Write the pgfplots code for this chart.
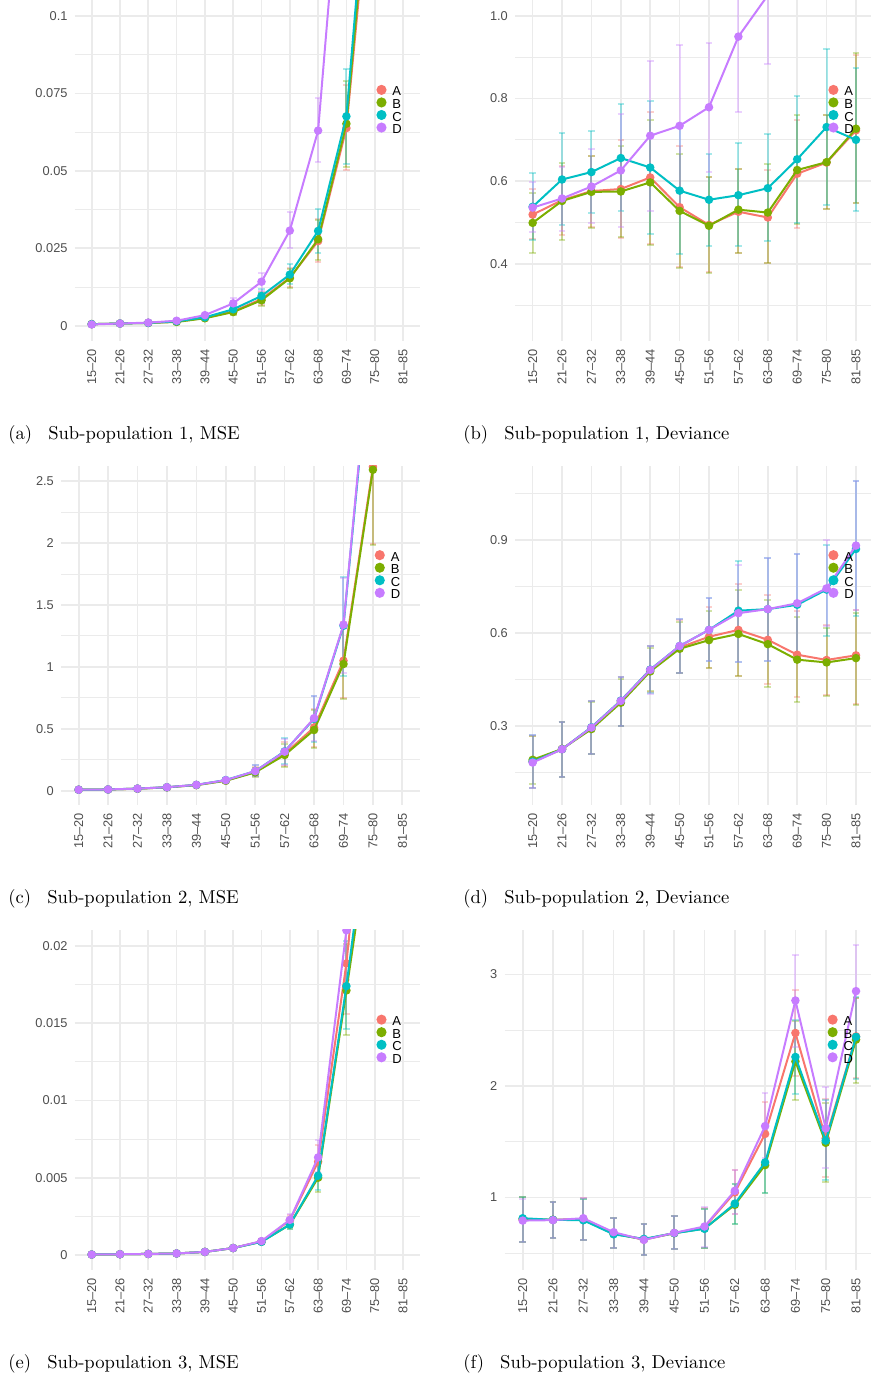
\documentclass[border=0pt]{standalone}
\usepackage{fontspec}
\usepackage{pgfplots}
\usepackage{pgfplotstable}
\pgfplotsset{compat=1.18}
\newfontfamily\ggf{Liberation Sans}
\definecolor{cA}{HTML}{F8766D}
\definecolor{cB}{HTML}{7CAE00}
\definecolor{cC}{HTML}{00BFC4}
\definecolor{cD}{HTML}{C77CFF}
\definecolor{gridc}{HTML}{EBEBEB}
\definecolor{tickc}{HTML}{4D4D4D}

\pgfplotstableread{
x yA lA hA yB lB hB yC lC hC yD lD hD
0 0.0005 0.0004 0.0006 0.0005 0.0004 0.0006 0.0005 0.0004 0.0006 0.0004 0.0003 0.0005
1 0.0007 0.0006 0.0008 0.0007 0.0006 0.0008 0.0007 0.0006 0.0008 0.0007 0.0006 0.0008
2 0.0009 0.0008 0.0011 0.0009 0.0008 0.0011 0.0009 0.0008 0.0011 0.0010 0.0008 0.0012
3 0.0013 0.0011 0.0016 0.0012 0.0010 0.0015 0.0014 0.0011 0.0017 0.0016 0.0013 0.0020
4 0.0025 0.0020 0.0030 0.0024 0.0019 0.0029 0.0027 0.0021 0.0033 0.0034 0.0027 0.0042
5 0.0046 0.0038 0.0055 0.0044 0.0036 0.0053 0.0053 0.0043 0.0064 0.0072 0.0056 0.0090
6 0.0086 0.0066 0.0108 0.0082 0.0062 0.0104 0.0096 0.0074 0.0118 0.0142 0.0113 0.0170
7 0.0155 0.0125 0.0187 0.0153 0.0123 0.0184 0.0165 0.0133 0.0200 0.0307 0.0250 0.0366
8 0.0273 0.0207 0.0345 0.0279 0.0212 0.0340 0.0306 0.0234 0.0378 0.0630 0.0528 0.0734
9 0.0638 0.0503 0.0778 0.0652 0.0513 0.0790 0.0676 0.0523 0.0830 0.1730 0.1400 0.2100
10 0.1600 0.1300 0.1900 0.1660 0.1350 0.2000 0.1760 0.1400 0.2100 0.4000 0.3300 0.4700
}\tabA

\pgfplotstableread{
x yA lA hA yB lB hB yC lC hC yD lD hD
0 .519 .459 .582 .499 .427 .572 .538 .457 .619 .536 .476 .598
1 .554 .469 .637 .552 .457 .645 .604 .494 .717 .558 .480 .635
2 .576 .490 .660 .574 .487 .661 .622 .524 .721 .587 .498 .677
3 .581 .462 .700 .575 .464 .685 .656 .527 .786 .626 .488 .763
4 .609 .448 .767 .597 .446 .747 .633 .472 .795 .710 .528 .891
5 .537 .391 .686 .528 .389 .666 .577 .424 .732 .734 .535 .930
6 .494 .379 .609 .492 .378 .609 .555 .444 .665 .779 .623 .935
7 .526 .426 .630 .531 .426 .630 .566 .442 .692 .950 .767 1.14
8 .512 .403 .626 .524 .403 .641 .583 .454 .714 1.05 .884 1.22
9 .618 .486 .747 .627 .497 .760 .653 .498 .807 1.35 1.10 1.60
10 .645 .533 .760 .646 .533 .760 .731 .543 .919 1.50 1.20 1.80
11 .723 .547 .905 .727 .547 .910 .700 .528 .875 1.60 1.30 1.90
}\tabB

\pgfplotstableread{
x yA lA hA yB lB hB yC lC hC yD lD hD
0 .008 .006 .010 .008 .006 .010 .008 .006 .010 .008 .006 .010
1 .010 .008 .013 .010 .008 .013 .010 .008 .013 .010 .008 .013
2 .016 .013 .020 .016 .013 .020 .017 .013 .021 .017 .013 .021
3 .027 .022 .033 .027 .022 .033 .028 .022 .034 .028 .022 .034
4 .046 .038 .054 .045 .037 .053 .047 .039 .056 .047 .039 .056
5 .082 .066 .098 .080 .064 .096 .086 .069 .103 .085 .068 .102
6 .152 .115 .190 .148 .112 .186 .158 .120 .207 .158 .120 .205
7 .298 .200 .390 .288 .194 .380 .318 .212 .425 .315 .210 .420
8 .511 .350 .660 .490 .345 .650 .580 .396 .767 .586 .400 .767
9 1.050 .745 1.360 1.023 .740 1.340 1.332 .930 1.723 1.340 .950 1.720
10 2.616 1.990 3.300 2.592 1.984 3.250 3.800 3.000 4.600 3.850 3.000 4.700
}\tabC

\pgfplotstableread{
x yA lA hA yB lB hB yC lC hC yD lD hD
0 .184 .100 .268 .190 .113 .268 .184 .100 .270 .181 .098 .270
1 .224 .135 .312 .225 .135 .312 .224 .135 .312 .224 .135 .312
2 .294 .208 .381 .289 .208 .378 .295 .208 .381 .294 .208 .381
3 .380 .300 .458 .374 .300 .452 .381 .300 .458 .380 .300 .458
4 .480 .410 .557 .475 .413 .550 .481 .405 .557 .480 .401 .557
5 .552 .469 .640 .548 .469 .636 .557 .469 .644 .557 .469 .644
6 .587 .487 .684 .576 .485 .671 .609 .509 .711 .609 .509 .711
7 .609 .459 .757 .596 .459 .739 .671 .507 .830 .663 .507 .819
8 .577 .435 .722 .563 .424 .705 .676 .510 .841 .676 .510 .841
9 .529 .392 .669 .513 .378 .652 .690 .530 .855 .695 .530 .855
10 .512 .400 .625 .504 .395 .615 .739 .588 .882 .743 .620 .900
11 .527 .370 .674 .518 .368 .664 .870 .655 1.088 .881 .674 1.088
}\tabD

\pgfplotstableread{
x yA lA hA yB lB hB yC lC hC yD lD hD
0 .00003 .00002 .00004 .00003 .00002 .00004 .00003 .00002 .00004 .00003 .00002 .00004
1 .00005 .00004 .00006 .00005 .00004 .00006 .00005 .00004 .00006 .00005 .00004 .00006
2 .00007 .00006 .00008 .00007 .00006 .00008 .00007 .00006 .00008 .00007 .00006 .00008
3 .00010 .00008 .00012 .00010 .00008 .00012 .00010 .00008 .00012 .00010 .00008 .00012
4 .00020 .00016 .00024 .00020 .00016 .00024 .00020 .00016 .00024 .00020 .00016 .00024
5 .00045 .00039 .00051 .00045 .00039 .00051 .00045 .00039 .00051 .00045 .00039 .00051
6 .00088 .00075 .00101 .00086 .00073 .00099 .00085 .00072 .00098 .00090 .00077 .00103
7 .00224 .00190 .00260 .00196 .00165 .00228 .00197 .00166 .00230 .00227 .00192 .00263
8 .00603 .00520 .00710 .00500 .00410 .00590 .00513 .00420 .00605 .00631 .00540 .00744
9 .01886 .01560 .02220 .01711 .01420 .02010 .01739 .01460 .02030 .02100 .01780 .02500
10 .03700 .03100 .04300 .02950 .02450 .03450 .03150 .02600 .03700 .04500 .03800 .05200
}\tabE

\pgfplotstableread{
x yA lA hA yB lB hB yC lC hC yD lD hD
0 .800 .605 1.000 .808 .605 1.000 .814 .605 1.000 .793 .600 .990
1 .800 .635 .964 .800 .635 .964 .800 .635 .964 .797 .635 .964
2 .808 .620 .994 .800 .620 .990 .796 .620 .990 .814 .620 .994
3 .680 .551 .820 .675 .551 .815 .670 .551 .815 .689 .551 .820
4 .622 .485 .763 .625 .485 .763 .629 .485 .763 .620 .485 .763
5 .680 .540 .835 .680 .540 .835 .680 .540 .835 .683 .540 .835
6 .734 .551 .910 .722 .551 .900 .719 .551 .900 .740 .560 .915
7 1.045 .856 1.250 .934 .766 1.120 .945 .766 1.120 1.060 .856 1.250
8 1.570 1.300 1.855 1.290 1.040 1.560 1.315 1.040 1.600 1.640 1.350 1.940
9 2.475 2.085 2.856 2.220 1.870 2.580 2.260 1.930 2.590 2.766 2.350 3.170
10 1.530 1.180 1.880 1.490 1.135 1.850 1.510 1.156 1.876 1.620 1.260 1.995
11 2.445 2.070 2.790 2.415 2.030 2.790 2.440 2.060 2.800 2.850 2.450 3.260
}\tabF

\pgfplotsset{
  gg/.style={
    scale only axis, anchor=south west,
    xmin=-0.6, xmax=11.6,
    xtick={0,...,11},
    xticklabels={15–20,21–26,27–32,33–38,39–44,45–50,51–56,57–62,63–68,69–74,75–80,81–85},
    scaled y ticks=false,
    axis line style={draw=none},
    major tick length=0pt, minor tick length=0pt,
    xmajorgrids=true, ymajorgrids=true, yminorgrids=true,
    major grid style={draw=gridc, line width=1.7pt},
    minor grid style={draw=gridc, line width=0.9pt},
    tick label style={font=\ggf\fontsize{12.8}{14}\selectfont, text=tickc, inner sep=0pt},
    xticklabel style={rotate=90, anchor=east},
    yticklabel style={anchor=east},
    xticklabel shift=8pt, yticklabel shift=7pt,
    clip marker paths=true,
    legend style={draw=none, fill=none, at={(axis description cs:0.874,0.751)},
      anchor=north west, inner sep=0pt, outer sep=0pt,
      font=\ggf\fontsize{13}{13}\selectfont, row sep=-2.3pt, column sep=0pt,
      nodes={inner sep=0pt, text height=8.9pt, text depth=3.8pt}},
    legend cell align=left,
    legend image code/.code={\fill[##1] (4pt,3.5pt) circle (4pt); \path (0pt,0pt) (14pt,0pt);},
  },
  eb/.style={forget plot, only marks, mark=none, color=#1,
    error bars/.cd, y dir=both, y explicit,
    error bar style={line width=2pt, draw opacity=0.35},
    error mark options={line width=2pt, draw opacity=0.35, mark size=3.3pt, rotate=90, color=#1}},
  ln/.style={color=#1, line width=2pt, mark=*, mark size=3.2pt, mark options={draw=none}},
}
\newcommand\ebplot[2]{\addplot[eb=c#1] table[x=x, y=y#1, y error plus expr=\thisrow{h#1}-\thisrow{y#1}, y error minus expr=\thisrow{y#1}-\thisrow{l#1}] {#2};}
\newcommand\lnplot[2]{\addplot[ln=c#1] table[x=x, y=y#1] {#2};}
\newcommand\allplots[1]{%
  \ebplot{A}{#1}\ebplot{B}{#1}\ebplot{C}{#1}\ebplot{D}{#1}%
  \lnplot{A}{#1}\lnplot{B}{#1}\lnplot{C}{#1}\lnplot{D}{#1}%
  \legend{A,B,C,D}}
\newcommand\subcap[3]{\node[anchor=west, inner sep=0pt, scale=1.86] at (#1pt,#2pt) {\fontsize{10}{12}\selectfont #3};}

\begin{document}
\begin{tikzpicture}[x=1pt,y=1pt]
\useasboundingbox (0pt,0pt) rectangle (870pt,1378pt);

% (a)
\begin{axis}[gg, at={(74.7pt,1037pt)}, width=345.3pt, height=341pt,
  ymin=-0.00494, ymax=0.10517,
  ytick={0,0.025,0.05,0.075,0.1}, yticklabels={0,0.025,0.05,0.075,0.1},
  minor ytick={0.0125,0.0375,0.0625,0.0875}]
\allplots{\tabA}
\end{axis}

% (b)
\begin{axis}[gg, at={(515pt,1037pt)}, width=358.6pt, height=341pt,
  ymin=0.213, ymax=1.0387,
  ytick={0.4,0.6,0.8,1.0}, yticklabels={0.4,0.6,0.8,1.0},
  minor ytick={0.3,0.5,0.7,0.9}]
\allplots{\tabB}
\end{axis}

% (c)
\begin{axis}[gg, at={(61pt,573pt)}, width=359pt, height=339.3pt,
  ymin=-0.1155, ymax=2.625,
  ytick={0,0.5,1,1.5,2,2.5}, yticklabels={0,0.5,1,1.5,2,2.5},
  minor ytick={0.25,0.75,1.25,1.75,2.25}]
\allplots{\tabC}
\end{axis}

% (d)
\begin{axis}[gg, at={(515pt,573pt)}, width=358.6pt, height=339.3pt,
  ymin=0.0442, ymax=1.1387,
  ytick={0.3,0.6,0.9}, yticklabels={0.3,0.6,0.9},
  minor ytick={0.15,0.45,0.75,1.05}]
\allplots{\tabD}
\end{axis}

% (e)
\begin{axis}[gg, at={(74.7pt,108pt)}, width=345.3pt, height=340pt,
  ymin=-0.00097, ymax=0.02102,
  ytick={0,0.005,0.01,0.015,0.02}, yticklabels={0,0.005,0.01,0.015,0.02},
  minor ytick={0.0025,0.0075,0.0125,0.0175}]
\allplots{\tabE}
\end{axis}

% (f)
\begin{axis}[gg, at={(504.5pt,108pt)}, width=369.7pt, height=340pt,
  ymin=0.35, ymax=3.398,
  ytick={1,2,3}, yticklabels={1,2,3},
  minor ytick={0.5,1.5,2.5}]
\allplots{\tabF}
\end{axis}

\subcap{8}{943}{(a)\hspace{0.87em}Sub-population 1, MSE}
\subcap{463}{943}{(b)\hspace{0.87em}Sub-population 1, Deviance}
\subcap{8}{479}{(c)\hspace{0.87em}Sub-population 2, MSE}
\subcap{463}{479}{(d)\hspace{0.87em}Sub-population 2, Deviance}
\subcap{8}{14}{(e)\hspace{0.87em}Sub-population 3, MSE}
\subcap{463}{14}{(f)\hspace{0.87em}Sub-population 3, Deviance}
\end{tikzpicture}
\end{document}
